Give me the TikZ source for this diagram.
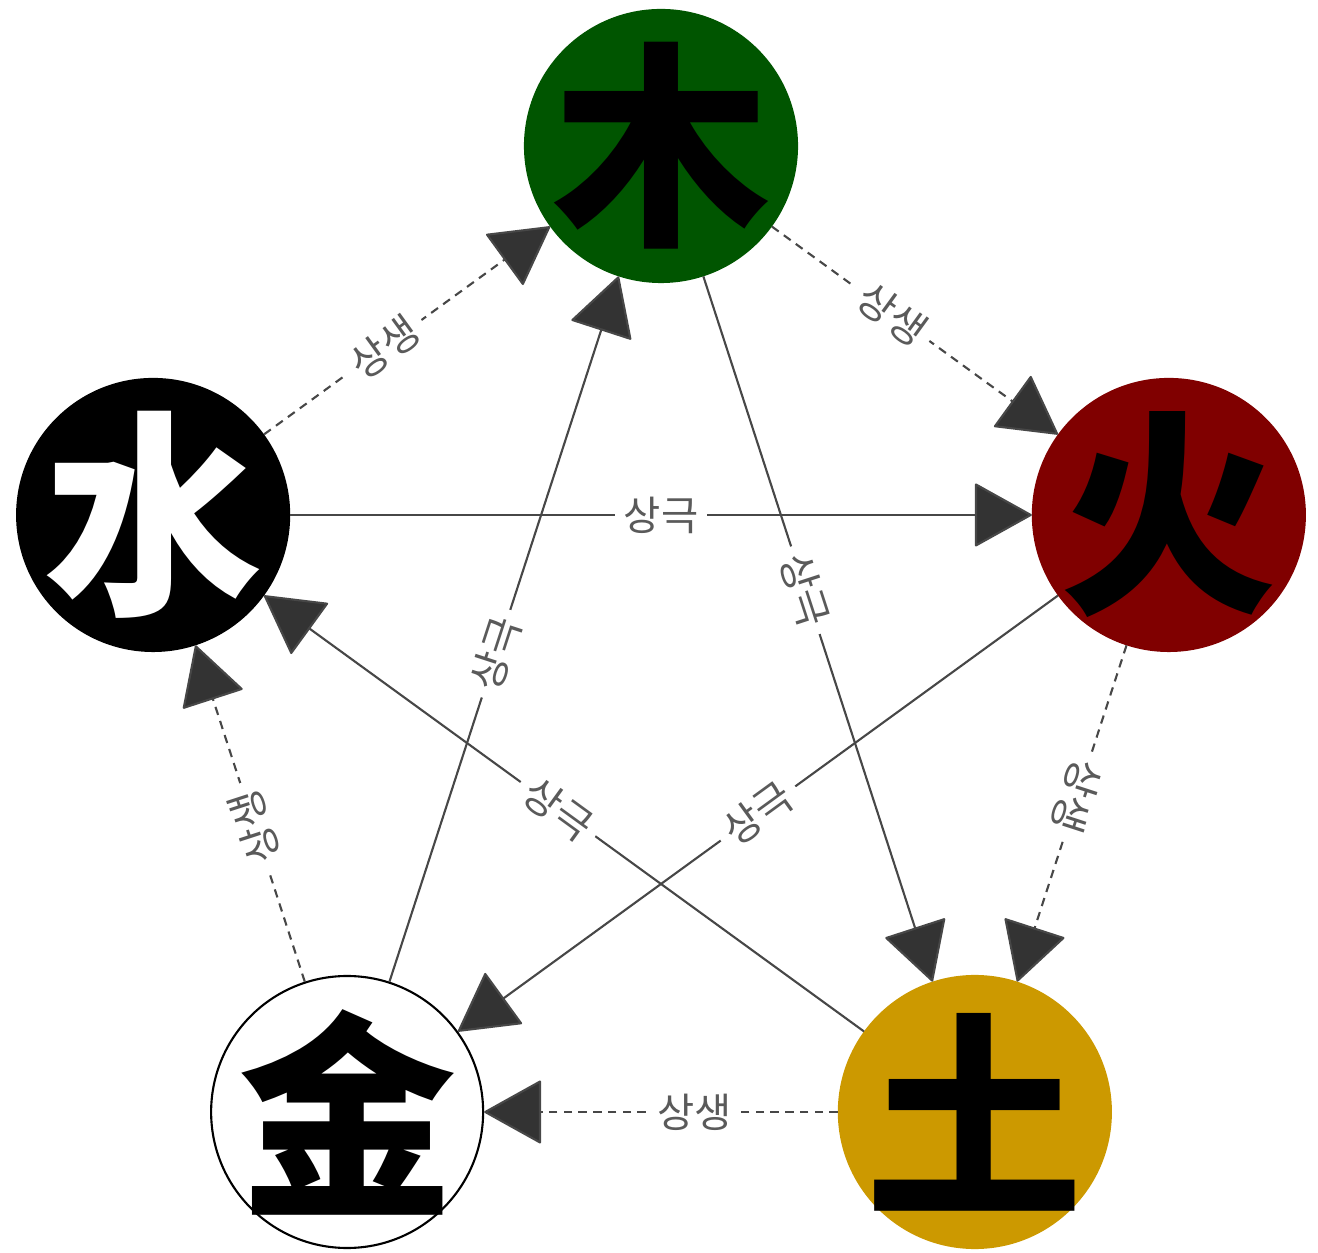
\documentclass[tikz,border=0pt]{standalone}
\usepackage{fontspec}
\usetikzlibrary{arrows.meta}
\newfontfamily\hanFont{Noto Sans CJK SC}
\newfontfamily\korFont{Noto Sans CJK KR}
\definecolor{woodGreen}{RGB}{0,85,0}
\definecolor{fireRed}{RGB}{128,0,0}
\definecolor{earthGold}{RGB}{204,153,0}
\definecolor{tipInk}{RGB}{51,51,51}
\definecolor{labelGrey}{RGB}{90,90,90}

\begin{document}
\begin{tikzpicture}[x=1cm,y=1cm,
  elem/.style={circle,minimum size=2.72cm,inner sep=0pt,line width=0.6pt},
  glyph/.style={inner sep=0pt,font=\hanFont\bfseries\fontsize{62}{62}\selectfont},
  flow/.style={draw=tipInk!90,line width=0.6pt,
    -{Triangle[length=5.8mm,width=6.4mm,round,fill=tipInk]}},
  sheng/.style={flow,dash pattern=on 2.4pt off 1.8pt},
  ke/.style={flow},
  lbl/.style={fill=white,text=labelGrey,inner sep=2.5pt,
    font=\korFont\fontsize{11.5}{11.5}\selectfont}]
  \useasboundingbox (0,0) rectangle (13.18,12.53);
  \def\rad{5.34}
  \coordinate (ctr) at (6.61,5.73);
  % five elements
  \foreach \nm/\ang/\col/\bd/\ink/\txt in {wood/90/woodGreen/woodGreen/black/木,
      fire/18/fireRed/fireRed/black/火, earth/-54/earthGold/earthGold/black/土,
      metal/234/white/black/black/金, water/162/black/black/white/水}{
    \node[elem,fill=\col,draw=\bd,label={[glyph,text=\ink,name=\nm-char]center:\txt}]
      (\nm) at ([shift={(\ang:\rad)}]ctr) {};
  }
  % generating cycle
  \foreach \a/\b/\p/\r in {wood/fire/.42/-36, fire/earth/.45/-108, earth/metal/.405/0,
      metal/water/.46/108, water/wood/.42/36}{
    \draw[sheng] (\a) -- node[lbl,pos=\p,rotate=\r] {상생} (\b);
  }
  % overcoming cycle
  \foreach \a/\b/\p/\r in {wood/earth/.445/-72, earth/water/.51/-36, water/fire/.5/0,
      fire/metal/.5/36, metal/wood/.465/72}{
    \draw[ke] (\a) -- node[lbl,pos=\p,rotate=\r] {상극} (\b);
  }
\end{tikzpicture}
\end{document}
